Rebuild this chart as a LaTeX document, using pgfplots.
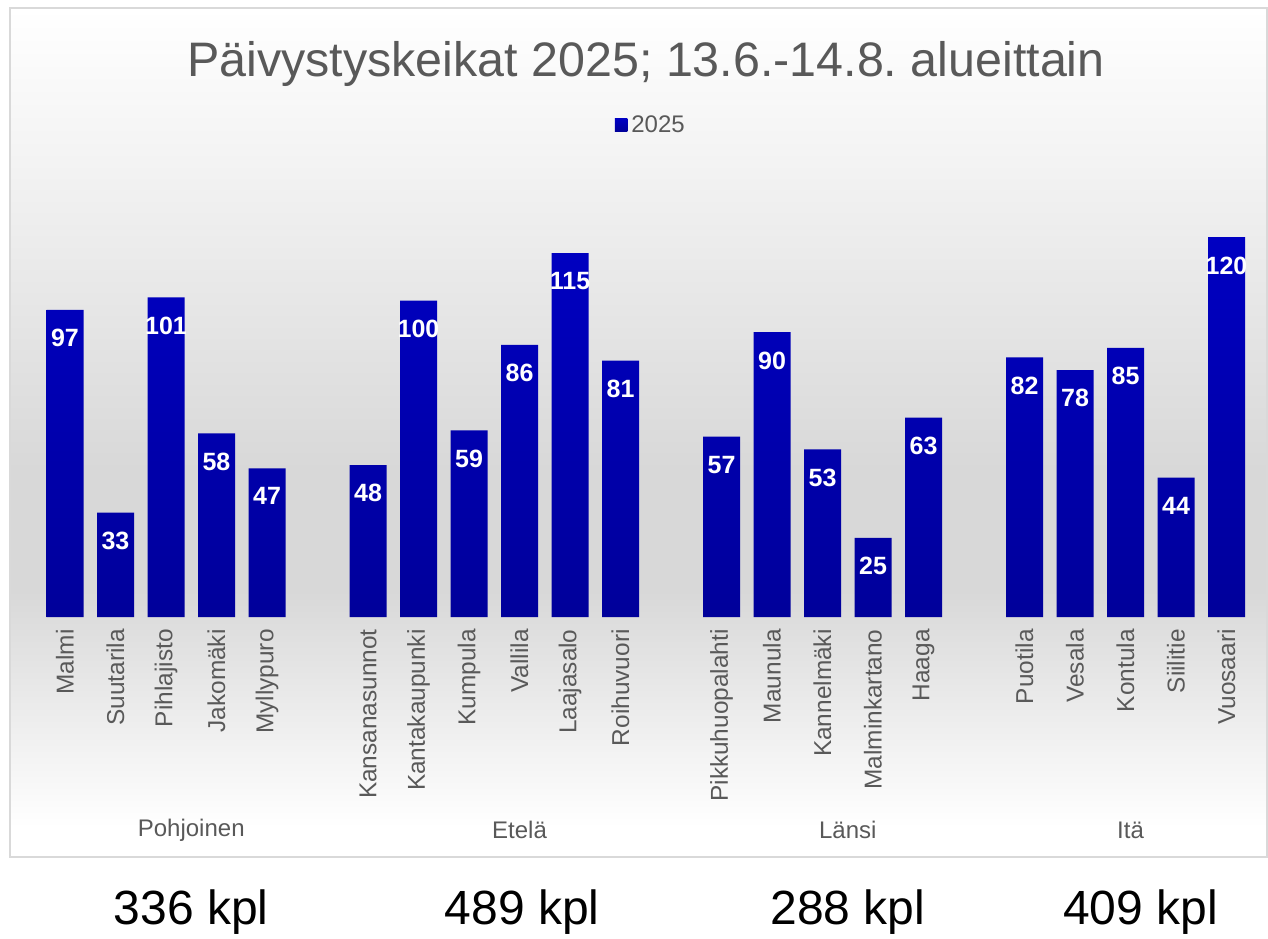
\documentclass[border=0pt]{standalone}
\usepackage{pgfplots}
\pgfplotsset{compat=1.18}
\usepackage{fontspec}
\setmainfont{Liberation Sans}
\frenchspacing
\definecolor{txt}{HTML}{595959}
\definecolor{bartop}{HTML}{0000C2}
\definecolor{barbot}{HTML}{00009A}
\definecolor{boxc}{HTML}{D9D9D9}
\definecolor{bgmid}{HTML}{D8D8D8}
\definecolor{bgup}{HTML}{F4F4F4}
\begin{document}
\begin{tikzpicture}[x=0.5pt,y=0.5pt]
\useasboundingbox (0,0) rectangle (1268,938);
\fill[white] (0,0) rectangle (1268,938);
% chart background (image y -> 938-y)
\shade[top color=white,bottom color=bgup] (10,930) rectangle (1267,788);
\shade[top color=bgup,bottom color=bgmid] (10,788) rectangle (1267,468);
\fill[bgmid] (10,468) rectangle (1267,348);
\shade[top color=bgmid,bottom color=white] (10,348) rectangle (1267,110);
\fill[white] (10,110) rectangle (1267,81);
\draw[boxc, line width=0.9pt] (10,930) rectangle (1267,81);
% title
\node[anchor=base, text=txt, font=\fontsize{24.2}{28}\selectfont, inner sep=0pt] at (646,861) {Päivystyskeikat 2025; 13.6.-14.8. alueittain};
\begin{axis}[
  at={(19.875pt,160.5pt)}, anchor=south west,
  scale only axis, width=606pt, height=237.375pt,
  xmin=-0.5, xmax=23.5, ymin=0, ymax=150,
  clip=false,
  axis line style={draw=none},
  major tick length=0pt,
  ytick=\empty,
  xtick={0,1,2,3,4,6,7,8,9,10,11,13,14,15,16,17,19,20,21,22,23},
  xticklabels={Malmi,Suutarila,Pihlajisto,Jakomäki,Myllypuro,Kansanasunnot,Kantakaupunki,Kumpula,Vallila,Laajasalo,Roihuvuori,Pikkuhuopalahti,Maunula,Kannelmäki,Malminkartano,Haaga,Puotila,Vesala,Kontula,Siilitie,Vuosaari},
  xticklabel style={rotate=90, anchor=east, inner sep=0pt, font=\fontsize{12.2}{14}\selectfont, text=txt},
  xticklabel shift=6pt,
  ybar, bar width=18.5pt,
  nodes near coords,
  /pgf/number format/assume math mode=true,
  every node near coord/.append style={anchor=north, yshift=-9.5pt, inner sep=0pt, text=white, font=\bfseries\fontsize{12.5}{14}\selectfont},
  legend style={at={(axis description cs:0.505,1.036)}, anchor=center, draw=none, fill=none, inner sep=0pt, font=\fontsize{12}{14}\selectfont, text=txt},
  legend image code/.code={\fill[bartop] (0pt,-3pt) rectangle (6.2pt,3.2pt);},
]
\addplot[draw=none, top color=bartop, bottom color=barbot] coordinates {
(0,97) (1,33) (2,101) (3,58) (4,47)
(6,48) (7,100) (8,59) (9,86) (10,115) (11,81)
(13,57) (14,90) (15,53) (16,25) (17,63)
(19,82) (20,78) (21,85) (22,44) (23,120)};
\legend{2025}
\node[text=txt, font=\fontsize{12}{14}\selectfont] at (axis cs:2.5,-67.3) {Pohjoinen};
\node[text=txt, font=\fontsize{12}{14}\selectfont] at (axis cs:9,-67.3) {Etelä};
\node[text=txt, font=\fontsize{12}{14}\selectfont] at (axis cs:15.5,-67.3) {Länsi};
\node[text=txt, font=\fontsize{12}{14}\selectfont] at (axis cs:21.1,-67.3) {Itä};
\node[text=black, font=\fontsize{24}{28}\selectfont] at (axis cs:2.5,-93.2) {336 kpl};
\node[text=black, font=\fontsize{24}{28}\selectfont] at (axis cs:9.05,-93.2) {489 kpl};
\node[text=black, font=\fontsize{24}{28}\selectfont] at (axis cs:15.5,-93.2) {288 kpl};
\node[text=black, font=\fontsize{24}{28}\selectfont] at (axis cs:21.3,-93.2) {409 kpl};
\end{axis}
\end{tikzpicture}
\end{document}
